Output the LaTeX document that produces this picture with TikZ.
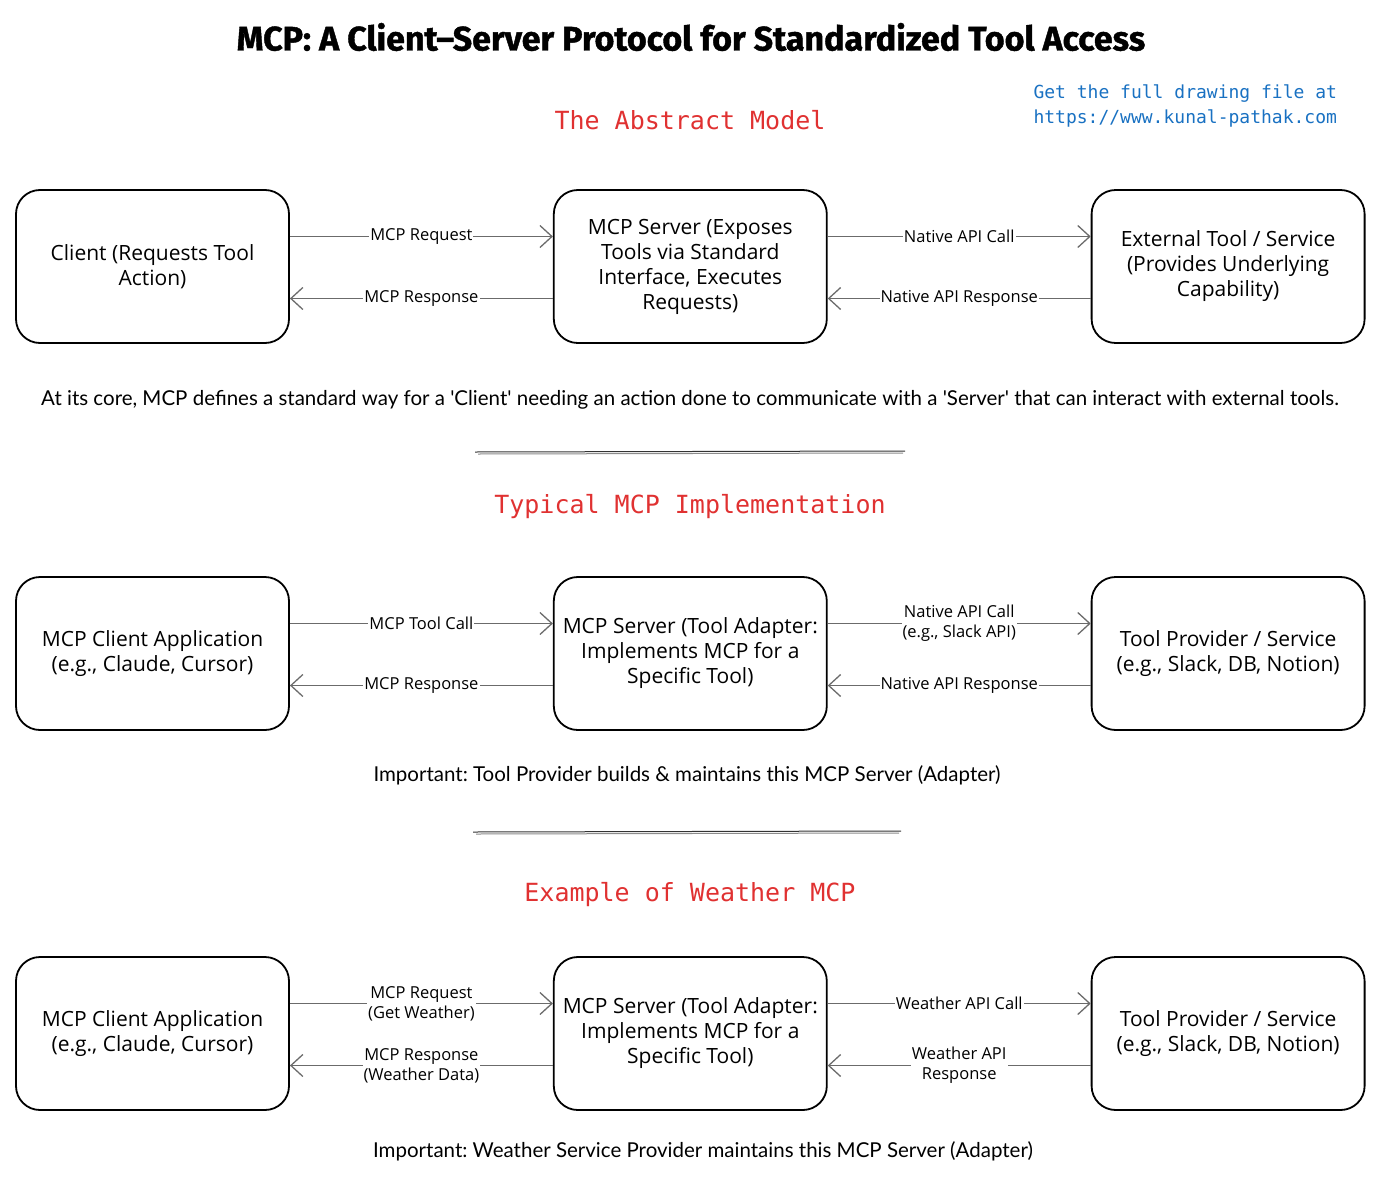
\documentclass[tikz,border=0pt]{standalone}
\usepackage{fontspec}
\usepackage{xcolor}
\setmainfont{Lato}
\newfontfamily\boxfont{Open Sans}
\newfontfamily\codefont{DejaVu Sans Mono}
\newfontfamily\titlefont{Fira Sans}[BoldFeatures={FakeBold=1.2}]
\usetikzlibrary{positioning,arrows.meta}
\definecolor{headred}{HTML}{E03131}
\definecolor{linkblue}{HTML}{1971C2}
\definecolor{wire}{HTML}{6B6B6B}
\frenchspacing
\tikzset{
  block/.style={draw, line width=1.8pt, rounded corners=24pt, minimum width=273pt,
    minimum height=153pt, align=center, font=\boxfont\fontsize{21}{25}\selectfont},
  call/.style={draw=wire, line width=1.3pt, -{Straight Barb[length=12pt,width=22pt]}},
  tag/.style={fill=white, inner sep=1pt, align=center, font=\boxfont\fontsize{16.5}{20}\selectfont},
  heading/.style={text=headred, font=\codefont\fontsize{25}{30}\selectfont},
  note/.style={font=\fontsize{20.5}{24}\selectfont},
  rule/.style={line width=1pt, draw=#1},
}

\begin{document}
\begin{tikzpicture}[x=1pt, y=-1pt, node distance=263pt]
  \useasboundingbox (0,0) rectangle (1380,1180);

  \node (title) at (691,37) {\titlefont\bfseries\fontsize{34}{38}\selectfont MCP: A Client–Server Protocol for Standardized Tool Access};
  \node[anchor=west, align=left, text=linkblue, font=\codefont\fontsize{18}{25}\selectfont] (link) at (1030,106)
    {Get the full drawing file at\\https://www.kunal-pathak.com};

  % the abstract model
  \node[heading] (h1) at (690,120) {The Abstract Model};
  \node[block] (c1) at (152.5,266.5) {Client (Requests Tool\\Action)};
  \node[block, right=of c1] (s1) {MCP Server (Exposes\\Tools via Standard\\Interface, Executes\\Requests)};
  \node[block, right=of s1] (t1) {External Tool / Service\\(Provides Underlying\\Capability)};
  \draw[call] ([yshift=30pt]c1.east) -- node[tag] {MCP Request} ([yshift=30pt]s1.west);
  \draw[call] ([yshift=-32pt]s1.west) -- node[tag] {MCP Response} ([yshift=-32pt]c1.east);
  \draw[call] ([yshift=30pt]s1.east) -- node[tag] {Native API Call} ([yshift=30pt]t1.west);
  \draw[call] ([yshift=-32pt]t1.west) -- node[tag] {Native API Response} ([yshift=-32pt]s1.east);
  \node[note] (n1) at (690,400) {At its core, MCP defines a standard way for a \textquotesingle Client\textquotesingle{} needing an action done to communicate with a \textquotesingle Server\textquotesingle{} that can interact with external tools.};

  \draw[rule=black!80] (475,452) -- (905,451);
  \draw[rule=black!45] (478,454) -- (903,453);

  % typical implementation
  \node[heading] (h2) at (690,507) {Typical MCP Implementation};
  \node[block] (c2) at (152.5,653.5) {MCP Client Application\\(e.g., Claude, Cursor)};
  \node[block, right=of c2] (s2) {MCP Server (Tool Adapter:\\Implements MCP for a\\Specific Tool)};
  \node[block, right=of s2] (t2) {Tool Provider / Service\\(e.g., Slack, DB, Notion)};
  \draw[call] ([yshift=30pt]c2.east) -- node[tag] {MCP Tool Call} ([yshift=30pt]s2.west);
  \draw[call] ([yshift=-32pt]s2.west) -- node[tag] {MCP Response} ([yshift=-32pt]c2.east);
  \draw[call] ([yshift=30pt]s2.east) -- node[tag] {Native API Call\\(e.g., Slack API)} ([yshift=30pt]t2.west);
  \draw[call] ([yshift=-32pt]t2.west) -- node[tag] {Native API Response} ([yshift=-32pt]s2.east);
  \node[note] (n2) at (687,775) {Important: Tool Provider builds \& maintains this MCP Server (Adapter)};

  \draw[rule=black!80] (473,832) -- (901,831);
  \draw[rule=black!45] (476,834) -- (899,833);

  % weather example
  \node[heading] (h3) at (690,895) {Example of Weather MCP};
  \node[block] (c3) at (152.5,1033.5) {MCP Client Application\\(e.g., Claude, Cursor)};
  \node[block, right=of c3] (s3) {MCP Server (Tool Adapter:\\Implements MCP for a\\Specific Tool)};
  \node[block, right=of s3] (t3) {Tool Provider / Service\\(e.g., Slack, DB, Notion)};
  \draw[call] ([yshift=30pt]c3.east) -- node[tag] {MCP Request\\(Get Weather)} ([yshift=30pt]s3.west);
  \draw[call] ([yshift=-32pt]s3.west) -- node[tag] {MCP Response\\(Weather Data)} ([yshift=-32pt]c3.east);
  \draw[call] ([yshift=30pt]s3.east) -- node[tag] {Weather API Call} ([yshift=30pt]t3.west);
  \draw[call] ([yshift=-32pt]t3.west) -- node[tag] {Weather API\\Response} ([yshift=-32pt]s3.east);
  \node[note] (n3) at (703,1151) {Important: Weather Service Provider maintains this MCP Server (Adapter)};
\end{tikzpicture}
\end{document}
